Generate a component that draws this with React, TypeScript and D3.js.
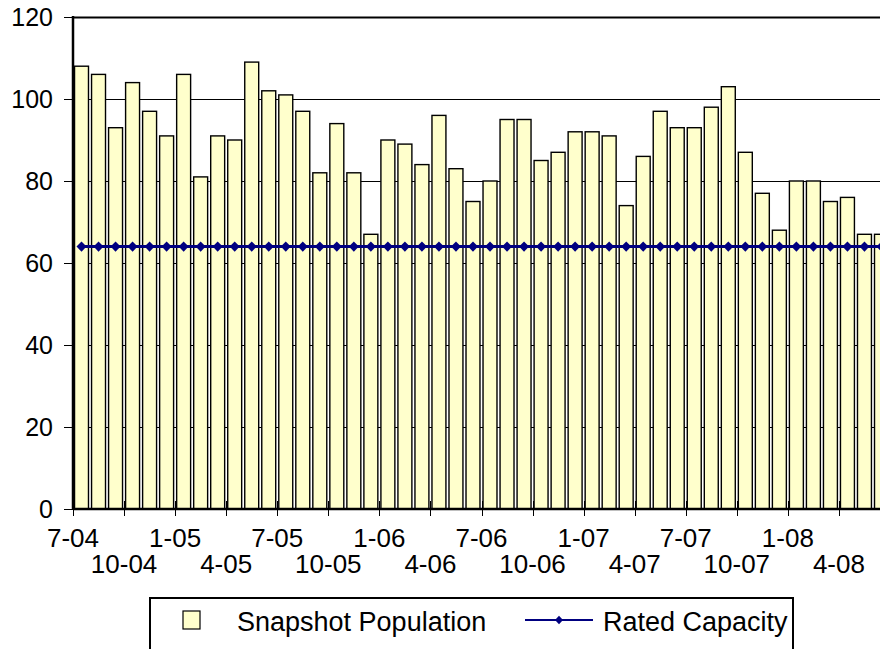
import * as d3 from "d3";

const months = [
  "7-04", "8-04", "9-04", "10-04", "11-04", "12-04",
  "1-05", "2-05", "3-05", "4-05", "5-05", "6-05",
  "7-05", "8-05", "9-05", "10-05", "11-05", "12-05",
  "1-06", "2-06", "3-06", "4-06", "5-06", "6-06",
  "7-06", "8-06", "9-06", "10-06", "11-06", "12-06",
  "1-07", "2-07", "3-07", "4-07", "5-07", "6-07",
  "7-07", "8-07", "9-07", "10-07", "11-07", "12-07",
  "1-08", "2-08", "3-08", "4-08", "5-08", "6-08",
];

const population = [
  108, 106, 93, 104, 97, 91, 106, 81, 91, 90, 109, 102,
  101, 97, 82, 94, 82, 67, 90, 89, 84, 96, 83, 75,
  80, 95, 95, 85, 87, 92, 92, 91, 74, 86, 97, 93,
  93, 98, 103, 87, 77, 68, 80, 80, 75, 76, 67, 67,
];

const ratedCapacity = [
  64, 64, 64, 64, 64, 64, 64, 64, 64, 64, 64, 64,
  64, 64, 64, 64, 64, 64, 64, 64, 64, 64, 64, 64,
  64, 64, 64, 64, 64, 64, 64, 64, 64, 64, 64, 64,
  64, 64, 64, 64, 64, 64, 64, 64, 64, 64, 64, 64,
];

const yTicks = [0, 20, 40, 60, 80, 100, 120];
const xLabelsTop = ["7-04", "1-05", "7-05", "1-06", "7-06", "1-07", "7-07", "1-08"];
const xLabelsBottom = ["10-04", "4-05", "10-05", "4-06", "10-06", "4-07", "10-07", "4-08"];

const width = 880;
const height = 649;
const left = 73;
const right = 890;
const top = 17;
const bottom = 509;
const font = "Arial, 'Liberation Sans', sans-serif";
const fill = "#FFFFCC";
const navy = "#000080";

const diamond = "M0,-5.2L5,0L0,5.2L-5,0Z";

export default function App() {
  const x = d3.scaleBand(months, [left, right]).paddingInner(0.18).paddingOuter(0.09);
  const y = d3.scaleLinear([0, 120], [bottom, top]);
  const step = x.step();
  const edge = (m: string) => (x(m) as number) - (step * 0.18) / 2;
  const center = (m: string) => (x(m) as number) + x.bandwidth() / 2;

  const line = d3.line<number>((_, i) => center(months[i]), (d) => y(d));
  const tickMonths = months.filter((_, i) => i % 3 === 0);

  return (
    <svg
      width={width}
      height={height}
      style={{ position: "absolute", left: 0, top: 0, background: "#fff" }}
      fontFamily={font}
    >
      {/* grid */}
      {yTicks.slice(1).map((t) => (
        <line
          key={t}
          x1={left}
          x2={width}
          y1={y(t) + 0.5}
          y2={y(t) + 0.5}
          stroke="#000"
          strokeWidth={t === 120 ? 2 : 1}
        />
      ))}

      {/* bars */}
      {population.map((v, i) => (
        <rect
          key={i}
          x={x(months[i])}
          y={y(v)}
          width={x.bandwidth()}
          height={y(0) - y(v)}
          fill={fill}
          stroke="#000"
          strokeWidth={1.4}
        />
      ))}

      {/* rated capacity */}
      <path d={line(ratedCapacity) ?? ""} fill="none" stroke={navy} strokeWidth={3} />
      {ratedCapacity.map((v, i) => (
        <path
          key={i}
          d={diamond}
          transform={`translate(${center(months[i])},${y(v)})`}
          fill={navy}
        />
      ))}

      {/* y axis */}
      <line x1={left} x2={left} y1={top - 1} y2={bottom} stroke="#000" strokeWidth={2.5} />
      {yTicks.map((t) => (
        <g key={t}>
          <line x1={left - 9} x2={left} y1={y(t) + 0.5} y2={y(t) + 0.5} stroke="#000" strokeWidth={1} />
          <text
            x={53}
            y={y(t)}
            dy="0.36em"
            textAnchor="end"
            fontSize={25}
            fill="#000"
          >
            {t}
          </text>
        </g>
      ))}

      {/* x axis */}
      <line x1={left} x2={width} y1={bottom} y2={bottom} stroke="#000" strokeWidth={2.5} />
      {tickMonths.map((m) => (
        <line
          key={m}
          x1={Math.round(edge(m)) + 0.5}
          x2={Math.round(edge(m)) + 0.5}
          y1={bottom - 8}
          y2={bottom + 7}
          stroke="#000"
          strokeWidth={1}
        />
      ))}
      {xLabelsTop.map((m) => (
        <text key={m} x={edge(m)} y={547} textAnchor="middle" fontSize={26} fill="#000">
          {m}
        </text>
      ))}
      {xLabelsBottom.map((m) => (
        <text key={m} x={edge(m)} y={573} textAnchor="middle" fontSize={26} fill="#000">
          {m}
        </text>
      ))}

      {/* legend */}
      <rect x={150} y={598} width={643} height={70} fill="#fff" stroke="#000" strokeWidth={2} />
      <rect x={183} y={611} width={17} height={18} fill={fill} stroke="#000" strokeWidth={1.2} />
      <text x={237} y={631} fontSize={27} fill="#000">
        Snapshot Population
      </text>
      <line x1={525} x2={593} y1={620} y2={620} stroke={navy} strokeWidth={2} />
      <path d={diamond} transform="translate(559,620) scale(0.8)" fill={navy} />
      <text x={603} y={631} fontSize={27} fill="#000">
        Rated Capacity
      </text>
    </svg>
  );
}
